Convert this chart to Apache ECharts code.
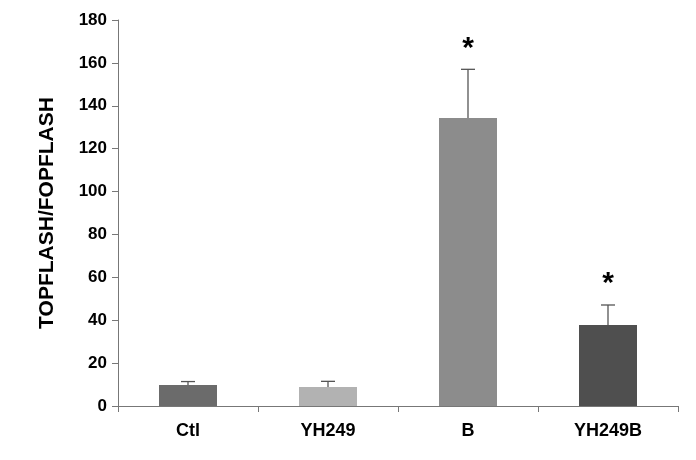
<!DOCTYPE html>
<html><head><meta charset="utf-8">
<script src="https://cdn.jsdelivr.net/npm/echarts@6/dist/echarts.min.js"></script>
<style>html,body{margin:0;padding:0;background:#fff}#c{width:696px;height:460px}</style>
</head><body><div id="c"></div>
<script>
const categories = ['Ctl', 'YH249', 'B', 'YH249B'];
const means = [9.8, 8.9, 134.3, 37.8];
const errors = [1.6, 2.6, 22.7, 9.3];
const significant = [false, false, true, true];
const colors = ['#6b6b6b', '#b2b2b2', '#8c8c8c', '#4f4f4f'];
const yTicks = [0, 20, 40, 60, 80, 100, 120, 140, 160, 180];

const chart = echarts.init(document.getElementById('c'));
chart.setOption({
  animation: false,
  grid: { left: 118, right: 18, top: 20, bottom: 54 },
  xAxis: {
    type: 'category', data: categories,
    axisLine: { lineStyle: { color: '#777', width: 1 } },
    axisTick: { show: true, length: 6, lineStyle: { color: '#777' } },
    axisLabel: { color: '#000', fontFamily: 'Liberation Sans, Arial', fontWeight: 'bold', fontSize: 18, margin: 16 }
  },
  yAxis: {
    type: 'value', min: 0, max: 180, interval: 20,
    name: 'TOPFLASH/FOPFLASH', nameLocation: 'middle', nameGap: 60,
    nameTextStyle: { color: '#000', fontFamily: 'Liberation Sans, Arial', fontWeight: 'bold', fontSize: 21 },
    axisLine: { show: true, lineStyle: { color: '#777' } },
    axisTick: { show: true, length: 6, lineStyle: { color: '#777' } },
    splitLine: { show: false },
    axisLabel: { color: '#000', fontFamily: 'Liberation Sans, Arial', fontWeight: 'bold', fontSize: 17, margin: 11 }
  },
  series: [
    {
      type: 'bar', barWidth: 58,
      data: means.map((v, i) => ({ value: v, itemStyle: { color: colors[i] } }))
    },
    {
      type: 'custom', z: 5,
      data: means.map((v, i) => [i, v, errors[i], significant[i] ? 1 : 0]),
      renderItem: function (params, api) {
        const p0 = api.coord([api.value(0), api.value(1)]);
        const p1 = api.coord([api.value(0), api.value(1) + api.value(2)]);
        const ls = { stroke: '#555', lineWidth: 1.3 };
        const ch = [
          { type: 'line', shape: { x1: p0[0], y1: p0[1], x2: p1[0], y2: p1[1] }, style: ls },
          { type: 'line', shape: { x1: p1[0] - 7, y1: p1[1], x2: p1[0] + 7, y2: p1[1] }, style: ls }
        ];
        if (api.value(3)) {
          ch.push({ type: 'text', style: { text: '*', x: p1[0], y: p1[1] - 6, align: 'center', verticalAlign: 'bottom',
            font: 'bold 30px Liberation Sans, Arial', fill: '#000' } });
        }
        return { type: 'group', children: ch };
      }
    }
  ]
});
</script></body></html>
